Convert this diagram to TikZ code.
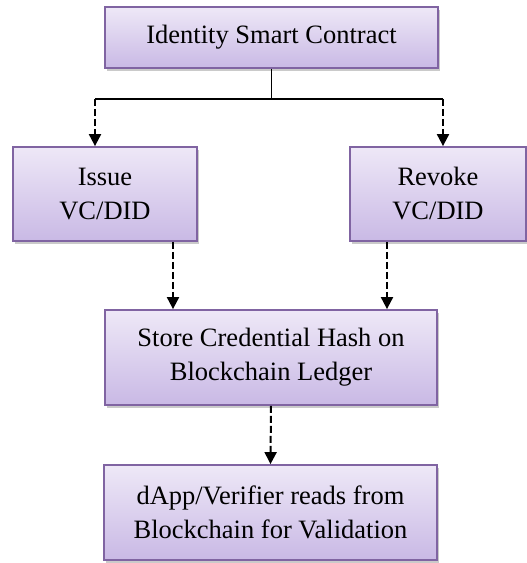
\documentclass[tikz,border=0pt]{standalone}
\usepackage{fontspec}
\setmainfont{Liberation Serif}
\usepackage{tikz}
\usetikzlibrary{arrows.meta,shadows}
\definecolor{boxtop}{RGB}{238,232,247}
\definecolor{boxbot}{RGB}{201,185,229}
\definecolor{boxline}{RGB}{128,100,162}
\tikzset{
  stepbox/.style={draw=boxline,line width=1.8pt,top color=boxtop,bottom color=boxbot,
    align=center,inner sep=0pt,font=\fontsize{26.5}{34}\selectfont,
    drop shadow={shadow xshift=1.5pt,shadow yshift=-3pt,opacity=0.35,fill=black!60}},
  flow/.style={dashed,dash pattern=on 7pt off 3pt,line width=2pt,-{Triangle[width=12pt,length=12pt]}}
}
\begin{document}
\begin{tikzpicture}[x=1pt,y=1pt]
\useasboundingbox (0,0) rectangle (527,563);
%Boxes
\node[stepbox,minimum width=333pt,minimum height=61pt] (contract) at (271.5,525.5) {Identity Smart Contract};
\node[stepbox,minimum width=184pt,minimum height=94pt] (issue) at (105,369) {Issue\\VC/DID};
\node[stepbox,minimum width=176pt,minimum height=94pt] (revoke) at (438,369) {Revoke\\VC/DID};
\node[stepbox,minimum width=332pt,minimum height=95pt] (store) at (271,205.5) {Store Credential Hash on\\Blockchain Ledger};
\node[stepbox,minimum width=333pt,minimum height=95pt] (verify) at (270.5,50.5) {dApp/Verifier reads from\\Blockchain for Validation};
%Split
\coordinate (split) at (contract.south |- 0,464);
\coordinate (lsplit) at (95,464);
\coordinate (rsplit) at (443,464);
\draw[line width=1.5pt] (contract.south) -- (split);
\draw[line width=1.5pt] (lsplit) -- (rsplit);
%Arrows
\draw[flow] (lsplit) -- (lsplit |- issue.north);
\draw[flow] (rsplit) -- (rsplit |- revoke.north);
\draw[flow] ([xshift=68pt]issue.south) -- ([xshift=68pt]issue.south |- store.north);
\draw[flow] ([xshift=-51pt]revoke.south) -- ([xshift=-51pt]revoke.south |- store.north);
\draw[flow] (store.south) -- (verify.north);
\end{tikzpicture}
\end{document}
